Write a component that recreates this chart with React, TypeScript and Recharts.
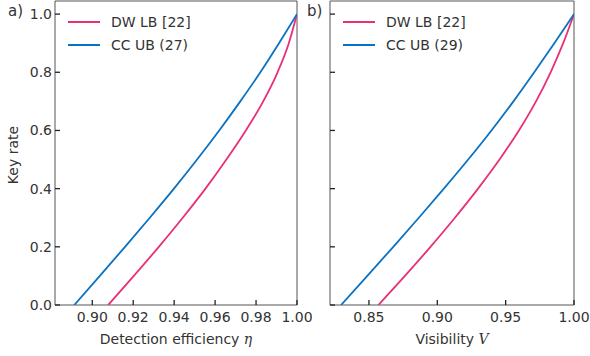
import React from 'react';
import { LineChart, Line, XAxis, YAxis, ReferenceArea, Legend, Label } from 'recharts';

// ---- data ----
const keyRateLevels = [0, 0.1, 0.2, 0.3, 0.4, 0.5, 0.6, 0.7, 0.8, 0.9, 1.0];
const etaDwLb = [0.9078, 0.9203, 0.9325, 0.9442, 0.9553, 0.9655, 0.975, 0.9835, 0.9905, 0.996, 1.0];
const etaCcUb = [0.8912, 0.9037, 0.916, 0.9281, 0.9399, 0.9512, 0.962, 0.9723, 0.9821, 0.9912, 1.0];
const visDwLb = [0.8569, 0.8763, 0.895, 0.9129, 0.9298, 0.9455, 0.9597, 0.9722, 0.9829, 0.9921, 1.0];
const visCcUb = [0.8296, 0.8488, 0.8678, 0.8865, 0.9048, 0.9226, 0.9396, 0.9557, 0.9709, 0.9856, 1.0];

const keyTicks = [0, 0.2, 0.4, 0.6, 0.8, 1.0];
const etaTicks = [0.9, 0.92, 0.94, 0.96, 0.98, 1.0];
const visTicks = [0.85, 0.9, 0.95, 1.0];
const etaDomain = [0.8818, 1.0];
const visDomain = [0.8215, 1.0];
const keyDomain = [0, 1.045];

const seriesNamesA = ['DW LB [22]', 'CC UB (27)'];
const seriesNamesB = ['DW LB [22]', 'CC UB (29)'];
const PINK = '#e8307a';
const BLUE = '#0a72c2';

const FONT = '"DejaVu Sans", sans-serif';
const TEXT = '#333';

const toPoints = (xs: number[]) => xs.map((x, i) => ({ x, k: keyRateLevels[i] }));

const makeLegend = (order: string[]) => (props: any) => {
  const payload = [...(props.payload || [])].sort(
    (a: any, b: any) => order.indexOf(a.value) - order.indexOf(b.value)
  );
  return (
    <div style={{ fontFamily: FONT, fontSize: 14, color: TEXT }}>
      {payload.map((e: any) => (
        <div key={e.value} style={{ display: 'flex', alignItems: 'center', height: 23 }}>
          <svg width={32} height={4} style={{ display: 'block' }}>
            <line x1={0} x2={32} y1={2} y2={2} stroke={e.color} strokeWidth={2} />
          </svg>
          <span style={{ marginLeft: 11, whiteSpace: 'nowrap', lineHeight: '23px' }}>{e.value}</span>
        </div>
      ))}
    </div>
  );
};

type PanelProps = {
  left: number;
  width: number;
  yAxisWidth: number;
  marginRight: number;
  xDomain: number[];
  xTicks: number[];
  names: string[];
  series: { name: string; color: string; data: { x: number; k: number }[] }[];
  xLabel: string;
  xVar: string;
  showYLabels: boolean;
  tag: string;
  tagX: number;
  legendLeft: number;
};

function Panel(p: PanelProps) {
  const xLabelContent = (props: any) => {
    const vb = props.viewBox || {};
    return (
      <text
        x={vb.x + vb.width / 2}
        y={vb.y + 39}
        textAnchor="middle"
        fontFamily={FONT}
        fontSize={14}
        fill={TEXT}
      >
        {p.xLabel}
        <tspan fontFamily='"DejaVu Serif", serif' fontStyle="italic">{p.xVar}</tspan>
      </text>
    );
  };
  const yLabelContent = (props: any) => {
    const vb = props.viewBox || {};
    const cx = 13;
    const cy = vb.y + vb.height / 2 + 2;
    return (
      <text
        x={cx}
        y={cy}
        transform={`rotate(-90, ${cx}, ${cy})`}
        textAnchor="middle"
        dominantBaseline="central"
        fontFamily={FONT}
        fontSize={14}
        fill={TEXT}
      >
        Key rate
      </text>
    );
  };
  return (
    <div style={{ position: 'absolute', left: p.left, top: 0, width: p.width, height: 356 }}>
      <LineChart width={p.width} height={356} margin={{ top: 1, right: p.marginRight, bottom: 0, left: 0 }}>
        <XAxis
          type="number"
          dataKey="x"
          domain={p.xDomain}
          ticks={p.xTicks}
          interval={0}
          allowDataOverflow
          height={51}
          axisLine={false}
          tickSize={-5}
          tickMargin={12}
          tickLine={{ stroke: '#222', strokeWidth: 1.3 }}
          tick={{ fill: TEXT, fontSize: 14, fontFamily: FONT }}
          tickFormatter={(v: number) => v.toFixed(2)}
        >
          <Label content={xLabelContent} />
        </XAxis>
        <YAxis
          type="number"
          dataKey="k"
          domain={keyDomain}
          ticks={keyTicks}
          interval={0}
          allowDataOverflow
          width={p.yAxisWidth}
          axisLine={false}
          tickSize={-5}
          tickMargin={8}
          tickLine={{ stroke: '#222', strokeWidth: 1.3 }}
          tick={{ fill: TEXT, fontSize: 14, fontFamily: FONT }}
          tickFormatter={(v: number) => (p.showYLabels ? v.toFixed(1) : '')}
        >
          {p.showYLabels ? <Label content={yLabelContent} /> : null}
        </YAxis>
        <ReferenceArea
          x1={p.xDomain[0]}
          x2={p.xDomain[1]}
          y1={keyDomain[0]}
          y2={keyDomain[1]}
          fill="none"
          fillOpacity={0}
          stroke="#555"
          strokeWidth={1}
          ifOverflow="visible"
        />
        {p.series.map((s) => (
          <Line
            key={s.name}
            data={s.data}
            dataKey="k"
            name={s.name}
            type="monotone"
            stroke={s.color}
            strokeWidth={1.8}
            dot={false}
            activeDot={false}
            isAnimationActive={false}
          />
        ))}
        <Legend
          layout="vertical"
          align="center"
          verticalAlign="middle"
          wrapperStyle={{ left: p.legendLeft, top: 10.5, width: 'auto' }}
          content={makeLegend(p.names)}
        />
      </LineChart>
      <svg width={30} height={24} style={{ position: 'absolute', left: 0, top: 0 }}>
        <text x={p.tagX} y={16} fontFamily={FONT} fontSize={15} fill={TEXT}>
          {p.tag}
        </text>
      </svg>
    </div>
  );
}

export default function App() {
  return (
    <div style={{ position: 'absolute', left: 0, top: 0, width: 590, height: 356, background: '#fff' }}>
      <Panel
        left={0}
        width={312}
        yAxisWidth={55}
        marginRight={15}
        xDomain={etaDomain}
        xTicks={etaTicks}
        names={seriesNamesA}
        series={[
          { name: seriesNamesA[0], color: PINK, data: toPoints(etaDwLb) },
          { name: seriesNamesA[1], color: BLUE, data: toPoints(etaCcUb) },
        ]}
        xLabel="Detection efficiency "
        xVar="η"
        showYLabels={true}
        tag="a)"
        tagX={8}
        legendLeft={68}
      />
      <Panel
        left={300}
        width={290}
        yAxisWidth={30}
        marginRight={16}
        xDomain={visDomain}
        xTicks={visTicks}
        names={seriesNamesB}
        series={[
          { name: seriesNamesB[0], color: PINK, data: toPoints(visDwLb) },
          { name: seriesNamesB[1], color: BLUE, data: toPoints(visCcUb) },
        ]}
        xLabel="Visibility "
        xVar="V"
        showYLabels={false}
        tag="b)"
        tagX={7}
        legendLeft={43}
      />
    </div>
  );
}
